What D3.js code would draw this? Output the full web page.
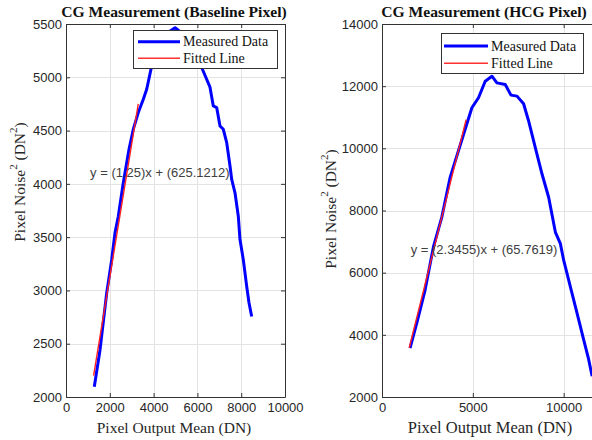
<!DOCTYPE html>
<html>
<head>
<meta charset="utf-8">
<script src="https://cdn.jsdelivr.net/npm/d3@7"></script>
<style>
  body { margin: 0; background: #fff; }
  svg { display: block; }
</style>
</head>
<body>
<div id="chart"></div>
<script>
// baseline pixel: measured noise^2 vs mean
const baseX = [1292, 1553, 1858, 2087, 2237, 2388, 2616, 2772, 2877, 3073, 3301, 3530, 3685, 3913, 4150, 4500, 4980, 5500, 5900, 6196, 6575, 6726, 6881, 7032, 7183, 7338, 7489, 7566, 7717, 7868, 7945, 8096, 8251, 8356, 8479];
const baseY = [2097, 2442, 2976, 3289, 3540, 3696, 4011, 4199, 4324, 4512, 4669, 4794, 4888, 5107, 5260, 5400, 5465, 5380, 5230, 5092, 4907, 4731, 4716, 4543, 4512, 4387, 4167, 4042, 3916, 3696, 3477, 3289, 3038, 2884, 2755];
const baseFitX = [1260, 3300];
const baseFitY = [2200, 4750];

// HCG pixel
const hcgX = [1544, 1914, 2372, 2830, 3293, 3751, 4208, 4578, 4948, 5312, 5681, 6051, 6326, 6784, 7099, 7430, 7794, 8070, 8439, 8808, 9173, 9542, 9818, 10000, 10370, 10739, 11103, 11379, 11566];
const hcgY = [3574, 4374, 5440, 6826, 7786, 9066, 9920, 10614, 11306, 11626, 12160, 12320, 12106, 12054, 11712, 11680, 11434, 10880, 10026, 9174, 8426, 7306, 6934, 6400, 5546, 4694, 3840, 3200, 2666];
const hcgFitX = [1500, 4630];
const hcgFitY = [3584, 10925];

const baseXTicks = [0, 2000, 4000, 6000, 8000, 10000];
const baseYTicks = [2000, 2500, 3000, 3500, 4000, 4500, 5000, 5500];
const hcgXTicks = [0, 5000, 10000];
const hcgYTicks = [2000, 4000, 6000, 8000, 10000, 12000, 14000];

const legendNames = ["Measured Data", "Fitted Line"];
const xLabel = "Pixel Output Mean (DN)";

const W = 592, H = 440;
const svg = d3.select("#chart").append("svg")
  .attr("width", W).attr("height", H)
  .style("background", "#fff");

const serif = "'Liberation Serif', 'Times New Roman', serif";
const sans = "'Liberation Sans', Arial, sans-serif";
const axisCol = "#333";

function panel(cfg) {
  const x = d3.scaleLinear().domain(cfg.xDomain).range([cfg.left, cfg.right]);
  const y = d3.scaleLinear().domain(cfg.yDomain).range([cfg.bottom, cfg.top]);
  const g = svg.append("g");

  // grid
  g.append("g").selectAll("line").data(cfg.xTicks).join("line")
    .attr("x1", d => Math.round(x(d)) + 0.5).attr("x2", d => Math.round(x(d)) + 0.5)
    .attr("y1", cfg.top).attr("y2", cfg.bottom)
    .attr("stroke", "#e3e3e3");
  g.append("g").selectAll("line").data(cfg.yTicks).join("line")
    .attr("y1", d => Math.round(y(d)) + 0.5).attr("y2", d => Math.round(y(d)) + 0.5)
    .attr("x1", cfg.left).attr("x2", cfg.right)
    .attr("stroke", "#e3e3e3");

  // axes (ticks pointing inward like matlab)
  const xa = g.append("g").attr("transform", `translate(0,${cfg.bottom})`)
    .call(d3.axisBottom(x).tickValues(cfg.xTicks).tickSizeInner(-4).tickSizeOuter(0).tickPadding(6).tickFormat(d3.format("d")));
  const ya = g.append("g").attr("transform", `translate(${cfg.left},0)`)
    .call(d3.axisLeft(y).tickValues(cfg.yTicks).tickSizeInner(-4).tickSizeOuter(0).tickPadding(4).tickFormat(d3.format("d")));
  const xt = g.append("g").attr("transform", `translate(0,${cfg.top})`)
    .call(d3.axisTop(x).tickValues(cfg.xTicks).tickSizeInner(-4).tickSizeOuter(0).tickFormat(""));
  const yr = g.append("g").attr("transform", `translate(${cfg.right},0)`)
    .call(d3.axisRight(y).tickValues(cfg.yTicks).tickSizeInner(-4).tickSizeOuter(0).tickFormat(""));
  [xa, ya, xt, yr].forEach(a => {
    a.selectAll("path, line").attr("stroke", axisCol);
    a.selectAll("text").attr("fill", "#262626")
      .style("font-family", sans).style("font-size", "13px");
  });

  // measured + fit
  const line = d3.line().x(d => x(d[0])).y(d => y(d[1]));
  g.append("path")
    .datum(d3.zip(cfg.dataX, cfg.dataY))
    .attr("d", line)
    .attr("fill", "none").attr("stroke", "#0000ff")
    .attr("stroke-width", 3).attr("stroke-linejoin", "round");
  g.append("path")
    .datum(d3.zip(cfg.fitX, cfg.fitY))
    .attr("d", line)
    .attr("fill", "none").attr("stroke", "#ff2020")
    .attr("stroke-width", 1.4);

  // equation
  g.append("text")
    .attr("x", x(cfg.eqAt[0])).attr("y", y(cfg.eqAt[1]))
    .attr("dominant-baseline", "central")
    .attr("fill", "#404040")
    .style("font-family", sans).style("font-size", "13px")
    .text(cfg.eq);

  // title
  g.append("text")
    .attr("x", cfg.titleX).attr("y", 17)
    .attr("text-anchor", "middle")
    .attr("fill", "#111")
    .style("font-family", serif).style("font-size", "15.6px").style("font-weight", "bold")
    .text(cfg.title);

  // x label
  g.append("text")
    .attr("x", cfg.xLabelX).attr("y", 433)
    .attr("text-anchor", "middle")
    .attr("fill", "#262626")
    .style("font-family", serif).style("font-size", cfg.xLabelSize)
    .text(xLabel);

  // y label with superscripts
  const yl = g.append("text")
    .attr("transform", `translate(${cfg.yLabelPos[0]},${cfg.yLabelPos[1]}) rotate(-90)`)
    .attr("text-anchor", "middle")
    .attr("dominant-baseline", "central")
    .attr("fill", "#262626")
    .style("font-family", serif).style("font-size", "15.5px");
  yl.append("tspan").text("Pixel Noise");
  yl.append("tspan").attr("baseline-shift", "super").style("font-size", "11px").text("2");
  yl.append("tspan").text(" (DN");
  yl.append("tspan").attr("baseline-shift", "super").style("font-size", "11px").text("2");
  yl.append("tspan").text(")");

  // legend
  const L = cfg.legend;
  const lg = g.append("g");
  lg.append("rect")
    .attr("x", L.x + 0.5).attr("y", L.y + 0.5).attr("width", L.w).attr("height", L.h)
    .attr("fill", "#fff").attr("stroke", axisCol);
  const rows = [
    { name: legendNames[0], color: "#0000ff", w: 3 },
    { name: legendNames[1], color: "#ff3030", w: 1.5 }
  ];
  rows.forEach((r, i) => {
    const ry = L.rows[i];
    lg.append("line")
      .attr("x1", L.lineX[0]).attr("x2", L.lineX[1])
      .attr("y1", ry).attr("y2", ry)
      .attr("stroke", r.color).attr("stroke-width", r.w);
    lg.append("text")
      .attr("x", L.textX).attr("y", ry)
      .attr("dominant-baseline", "central")
      .attr("fill", "#111")
      .style("font-family", serif).style("font-size", "14px")
      .text(r.name);
  });
}

panel({
  left: 66, right: 285, top: 24, bottom: 397,
  xDomain: [0, 10000], yDomain: [2000, 5500],
  xTicks: baseXTicks, yTicks: baseYTicks,
  dataX: baseX, dataY: baseY, fitX: baseFitX, fitY: baseFitY,
  eq: "y = (1.25)x + (625.1212)", eqAt: [1100, 4110],
  title: "CG Measurement (Baseline Pixel)", titleX: 174,
  xLabelX: 174, xLabelSize: "15.5px",
  yLabelPos: [19, 182],
  legend: { x: 133, y: 30, w: 144, h: 38, rows: [41.7, 58.3], lineX: [138, 180], textX: 183 }
});

panel({
  left: 382, right: 600, top: 24, bottom: 397,
  xDomain: [0, 12000], yDomain: [2000, 14000],
  xTicks: hcgXTicks, yTicks: hcgYTicks,
  dataX: hcgX, dataY: hcgY, fitX: hcgFitX, fitY: hcgFitY,
  eq: "y = (2.3455)x + (65.7619)", eqAt: [1580, 6750],
  title: "CG Measurement (HCG Pixel)", titleX: 484,
  xLabelX: 490, xLabelSize: "16.5px",
  yLabelPos: [330, 209],
  legend: { x: 441, y: 33, w: 142, h: 40, rows: [46, 63.3], lineX: [444, 488], textX: 491 }
});
</script>
</body>
</html>
